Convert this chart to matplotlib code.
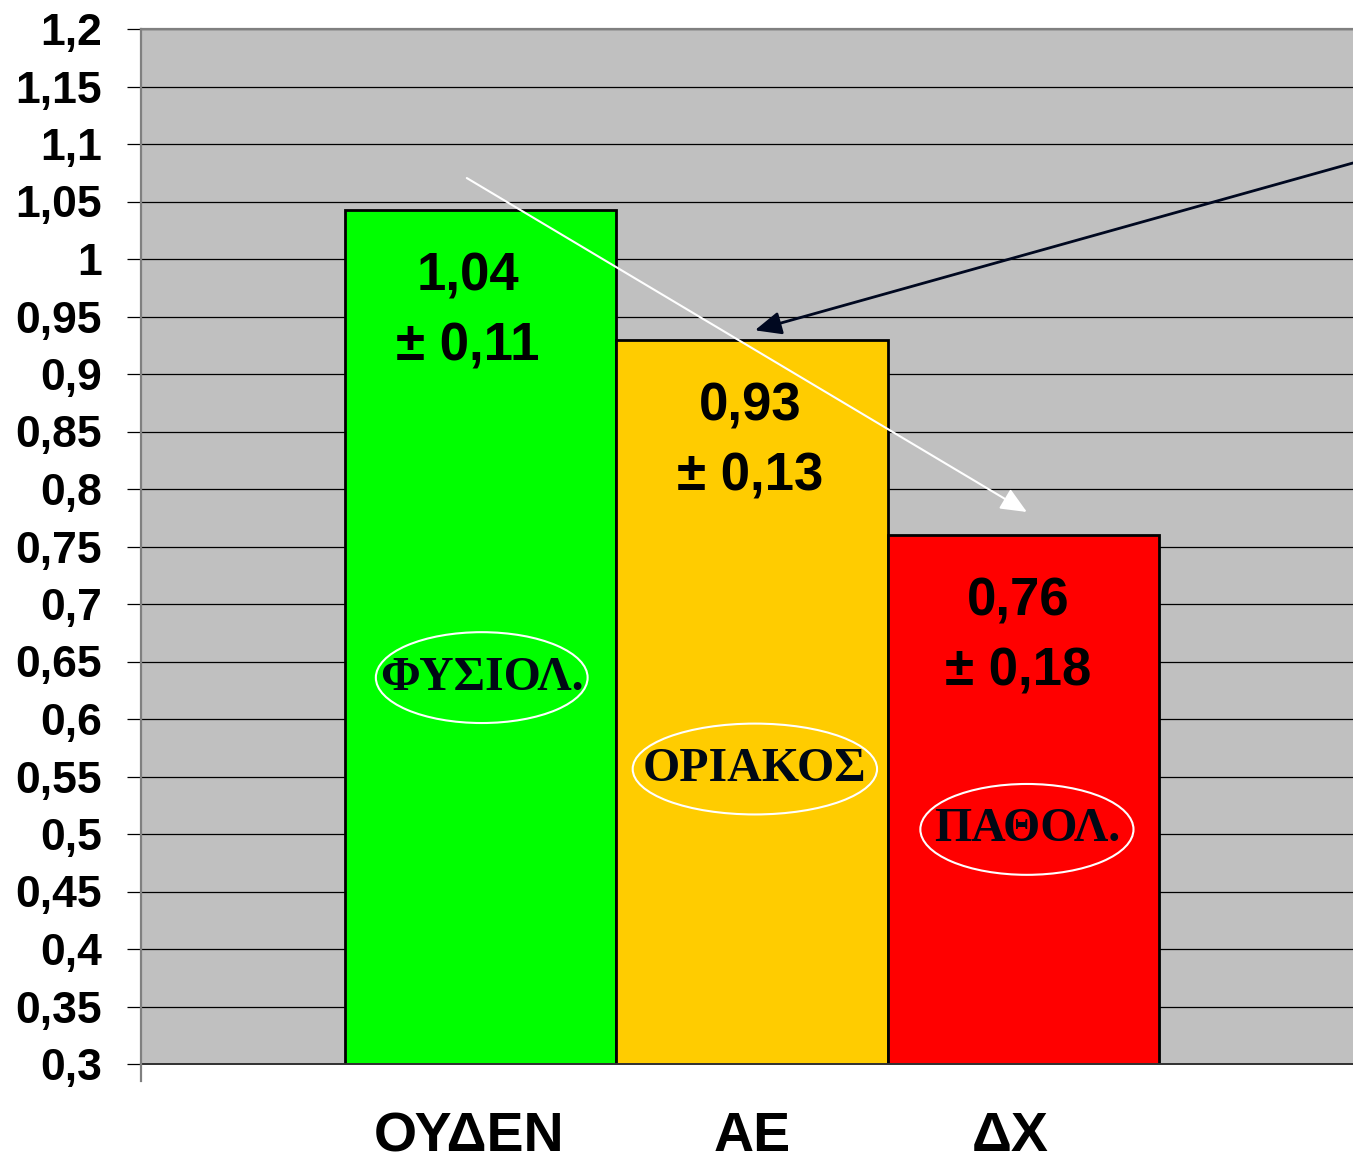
import matplotlib
matplotlib.use("Agg")
import matplotlib.pyplot as plt
from matplotlib.patches import Ellipse
from matplotlib.transforms import ScaledTranslation

# Chart data
categories = ["ΟΥΔΕΝ", "ΑΕ", "ΔΧ"]
means = [1.043, 0.93, 0.76]
mean_labels = ["1,04", "0,93", "0,76"]
sd_labels = ["± 0,11", "± 0,13", "± 0,18"]
zone_labels = ["ΦΥΣΙΟΛ.", "ΟΡΙΑΚΟΣ", "ΠΑΘΟΛ."]
bar_colors = ["#00FF00", "#FFCC00", "#FF0000"]
y_ticks = [0.3, 0.35, 0.4, 0.45, 0.5, 0.55, 0.6, 0.65, 0.7, 0.75, 0.8, 0.85,
           0.9, 0.95, 1.0, 1.05, 1.1, 1.15, 1.2]
y_tick_labels = ["0,3", "0,35", "0,4", "0,45", "0,5", "0,55", "0,6", "0,65",
                 "0,7", "0,75", "0,8", "0,85", "0,9", "0,95", "1", "1,05",
                 "1,1", "1,15", "1,2"]

SANS = ["Liberation Sans", "DejaVu Sans"]
SERIF = ["Liberation Serif", "DejaVu Serif"]

W, H = 1353, 1161
fig = plt.figure(figsize=(W / 100, H / 100), dpi=100)
fig.patch.set_facecolor("white")
ax = fig.add_axes([141 / W, (H - 1064) / H, (W - 141) / W, 1035 / H])
ax.set_facecolor("#C0C0C0")

x = list(range(len(categories)))
ax.set_xlim(-1.25, 3.214)
ax.set_ylim(0.3, 1.2)

# Horizontal gridlines behind bars
ax.set_yticks(y_ticks)
ax.set_yticklabels(y_tick_labels, fontfamily=SANS, fontweight="bold", fontsize=32)
ax.yaxis.grid(True, color="#000000", linewidth=0.9, zorder=0)
ax.set_axisbelow(True)
ax.tick_params(axis="y", length=10, width=0.9, color="black", pad=18)

ax.set_xticks(x)
ax.set_xticklabels(categories, fontfamily=SANS, fontweight="bold", fontsize=40)
ax.tick_params(axis="x", length=0, pad=34)
# shift some category labels a few pixels to the left
for lbl, dx_px in zip(ax.get_xticklabels(), [-11, 0, -13]):
    lbl.set_transform(lbl.get_transform()
                      + ScaledTranslation(dx_px / 100, 0, fig.dpi_scale_trans))

ax.spines["right"].set_visible(False)
ax.spines["top"].set_color("#808080")
ax.spines["top"].set_linewidth(1.6)
ax.spines["left"].set_color("#808080")
ax.spines["left"].set_linewidth(1.6)
ax.spines["bottom"].set_color("#303030")
ax.spines["bottom"].set_linewidth(1.4)

# Left axis line continues a little below the plot area
ax.plot([0, 0], [0, -0.016], transform=ax.transAxes, color="#808080",
        linewidth=1.6, clip_on=False, zorder=5)

ax.bar(x, means, width=1.0, bottom=0, color=bar_colors, edgecolor="black",
       linewidth=2.0, zorder=2)

# Mean ± SD labels inside bars
label_dx = [-0.045, -0.005, -0.02]
for xi, dx, m, ml, sl in zip(x, label_dx, means, mean_labels, sd_labels):
    ax.text(xi + dx, m - 0.058, ml, ha="center", va="center", fontfamily=SANS,
            fontweight="bold", fontsize=38, zorder=4)
    ax.text(xi + dx, m - 0.119, sl, ha="center", va="center", fontfamily=SANS,
            fontweight="bold", fontsize=38, zorder=4)

# Zone labels in white ellipses
zone_pos = [(0.005, 0.636, 0.78), (1.011, 0.5565, 0.90), (2.013, 0.504, 0.785)]
for (ex, ey, ew), zl in zip(zone_pos, zone_labels):
    ax.add_patch(Ellipse((ex, ey), ew, 0.079, facecolor="none", edgecolor="white",
                         linewidth=1.5, zorder=3))
    ax.text(ex, ey, zl, ha="center", va="center", fontfamily=SERIF,
            fontweight="bold", fontsize=34.5, color="#000814", zorder=4)

# Trend arrows
ax.annotate("", xy=(2.013, 0.78), xytext=(-0.05, 1.0704),
            arrowprops=dict(arrowstyle="-|>,head_length=0.8,head_width=0.35",
                            mutation_scale=20, color="white", linewidth=1.5,
                            shrinkA=0, shrinkB=0), zorder=5)
ax.annotate("", xy=(1.011, 0.938), xytext=(3.214, 1.0835),
            arrowprops=dict(arrowstyle="-|>,head_length=0.8,head_width=0.35",
                            mutation_scale=20, color="#000820", linewidth=2.0,
                            shrinkA=0, shrinkB=0), zorder=5)

fig.savefig("out.png", dpi=100)
